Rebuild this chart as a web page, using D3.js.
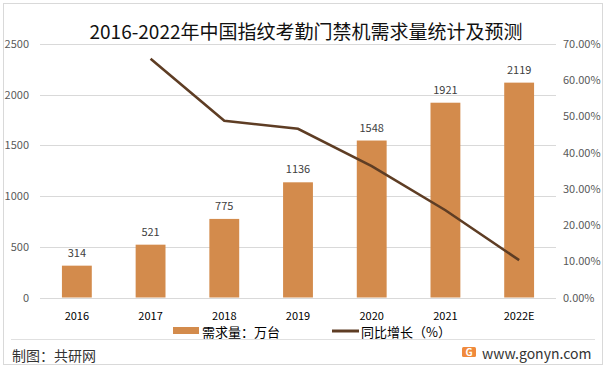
<!DOCTYPE html>
<html lang="zh">
<head>
<meta charset="UTF-8">
<title>指纹考勤门禁机需求量</title>
<style>
  body, html { margin: 0; padding: 0; background: #ffffff; }
  svg text { font-family: "Noto Sans CJK SC", "Noto Sans", sans-serif; }
</style>
</head>
<body>
<div id="chart"></div>
<script src="https://d3js.org/d3.v7.min.js"></script>
<script>
// data
const years = ["2016", "2017", "2018", "2019", "2020", "2021", "2022E"];
const demand = [314, 521, 775, 1136, 1548, 1921, 2119];          // 万台
const growth = [null, 65.9, 48.8, 46.6, 36.3, 24.1, 10.3];        // %
const leftTicks = [0, 500, 1000, 1500, 2000, 2500];
const rightTicks = [0, 10, 20, 30, 40, 50, 60, 70];

const W = 613, H = 371;
const plot = { left: 40, right: 556, top: 44, bottom: 297.5 };

const svg = d3.select("#chart").append("svg")
    .attr("width", W)
    .attr("height", H);

// outer frame
svg.append("rect")
    .attr("x", 3.5).attr("y", 3.5)
    .attr("width", 599).attr("height", 361)
    .attr("fill", "#fff")
    .attr("stroke", "#d9d9d9");

// title
svg.append("text")
    .attr("x", 306).attr("y", 39)
    .attr("text-anchor", "middle")
    .attr("font-size", 19)
    .attr("fill", "#111")
    .text("2016-2022年中国指纹考勤门禁机需求量统计及预测");

const x = d3.scaleBand().domain(years).range([plot.left, plot.right]).paddingInner(0.595).paddingOuter(0.2975);
const y = d3.scaleLinear().domain([0, 2500]).range([plot.bottom, plot.top]);
const y2 = d3.scaleLinear().domain([0, 70]).range([plot.bottom, plot.top]);

// gridlines
svg.append("g")
    .selectAll("line")
    .data(leftTicks)
    .join("line")
    .attr("x1", plot.left).attr("x2", plot.right)
    .attr("y1", d => Math.round(y(d)) + 0.5)
    .attr("y2", d => Math.round(y(d)) + 0.5)
    .attr("stroke", "#d9d9d9");

// left axis labels
svg.append("g")
    .selectAll("text")
    .data(leftTicks)
    .join("text")
    .attr("x", 29).attr("y", d => y(d) + 4)
    .attr("text-anchor", "end")
    .attr("font-size", 11)
    .attr("fill", "#595959")
    .text(d => d);

// right axis labels
svg.append("g")
    .selectAll("text")
    .data(rightTicks)
    .join("text")
    .attr("x", 563).attr("y", d => y2(d) + 4)
    .attr("font-size", 11)
    .attr("fill", "#595959")
    .text(d => d.toFixed(2) + "%");

// bars
svg.append("g")
    .selectAll("rect")
    .data(demand)
    .join("rect")
    .attr("x", (d, i) => x(years[i]))
    .attr("y", d => y(d))
    .attr("width", x.bandwidth())
    .attr("height", d => y(0) - y(d))
    .attr("fill", "#d38b4c");

// bar labels
svg.append("g")
    .selectAll("text")
    .data(demand)
    .join("text")
    .attr("x", (d, i) => x(years[i]) + x.bandwidth() / 2)
    .attr("y", d => y(d) - 9)
    .attr("text-anchor", "middle")
    .attr("font-size", 11)
    .attr("fill", "#404040")
    .text(d => d);

// growth line
const line = d3.line()
    .defined(d => d[1] != null)
    .x(d => x(d[0]) + x.bandwidth() / 2)
    .y(d => y2(d[1]));

svg.append("path")
    .datum(years.map((yr, i) => [yr, growth[i]]))
    .attr("d", line)
    .attr("fill", "none")
    .attr("stroke", "#5e3d24")
    .attr("stroke-width", 2.6);

// x labels
svg.append("g")
    .selectAll("text")
    .data(years)
    .join("text")
    .attr("x", d => x(d) + x.bandwidth() / 2)
    .attr("y", 320)
    .attr("text-anchor", "middle")
    .attr("font-size", 11)
    .attr("fill", "#000")
    .text(d => d);

// legend
svg.append("rect")
    .attr("x", 173).attr("y", 327)
    .attr("width", 26).attr("height", 7)
    .attr("fill", "#d38b4c");
svg.append("text")
    .attr("x", 202).attr("y", 337)
    .attr("font-size", 13)
    .attr("fill", "#000")
    .text("需求量：万台");
svg.append("line")
    .attr("x1", 332).attr("x2", 359)
    .attr("y1", 331).attr("y2", 331)
    .attr("stroke", "#5e3d24")
    .attr("stroke-width", 3);
svg.append("text")
    .attr("x", 361).attr("y", 337)
    .attr("font-size", 13)
    .attr("fill", "#000")
    .text("同比增长（%）");

// footer
svg.append("line")
    .attr("x1", 11).attr("x2", 595)
    .attr("y1", 339.5).attr("y2", 339.5)
    .attr("stroke", "#e0e0e0");
svg.append("text")
    .attr("x", 12).attr("y", 361)
    .attr("font-size", 14)
    .attr("fill", "#333")
    .text("制图：共研网");

// small logo block
svg.append("rect")
    .attr("x", 462).attr("y", 347)
    .attr("width", 14).attr("height", 10)
    .attr("rx", 1.5)
    .attr("fill", "#f08a3c");
svg.append("text")
    .attr("x", 469).attr("y", 356)
    .attr("text-anchor", "middle")
    .attr("font-size", 10)
    .attr("font-weight", "bold")
    .attr("fill", "#fff")
    .text("G");
svg.append("text")
    .attr("x", 482).attr("y", 359)
    .attr("font-size", 14)
    .attr("fill", "#333")
    .text("www.gonyn.com");
</script>
</body>
</html>
